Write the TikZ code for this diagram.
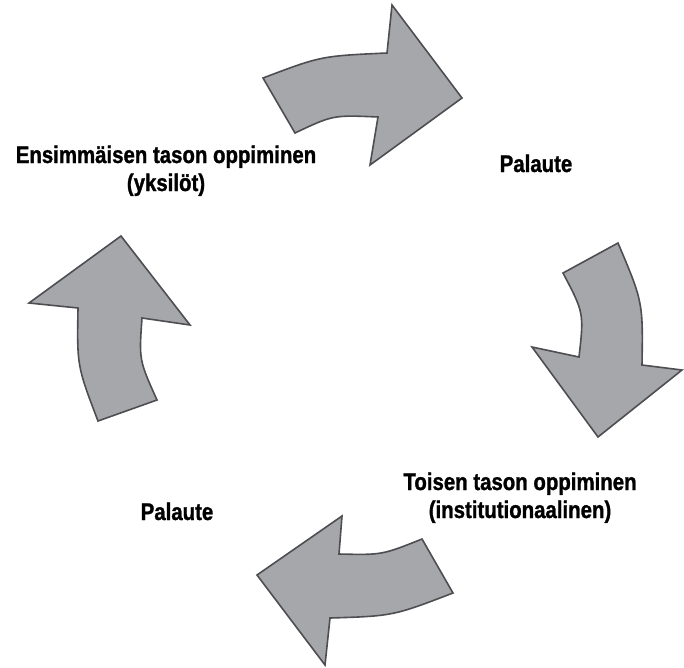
\documentclass[tikz,border=0pt]{standalone}
\usepackage{fontspec}
\newfontfamily\lblfont{Liberation Sans}[FakeStretch=0.85,FakeBold=1.2]
\definecolor{arrowfill}{RGB}{166,167,171}
\definecolor{arrowline}{RGB}{78,78,82}
\begin{document}
\begin{tikzpicture}[x=1pt,y=-1pt,
  cyclearrow/.style={fill=arrowfill,draw=arrowline,line width=1.6pt,line join=miter},
  lbl/.style={font=\lblfont\bfseries\fontsize{24}{28}\selectfont,inner sep=0pt,anchor=base,text=black}]
\useasboundingbox (0,0) rectangle (684,667);
% top arrow (points right)
\path[cyclearrow] (263,78) .. controls (321,56) .. (387,53) -- (392,5) -- (462,98) -- (370,165)
  -- (378,117) .. controls (333,115) .. (295,133) -- cycle;
% right arrow (points down)
\path[cyclearrow] (563,273) -- (618,243) .. controls (643,302) .. (642,365) -- (682,370)
  -- (598,437) -- (532,347) -- (579,357) .. controls (584,313) .. cycle;
% bottom arrow (points left)
\path[cyclearrow] (453,593) -- (422,539) .. controls (382,555) .. (339,554) -- (342,516)
  -- (257,575) -- (325,665) -- (330,618) .. controls (393,616) .. cycle;
% left arrow (points up)
\path[cyclearrow] (157,400) -- (98,421) .. controls (77,366) .. (78,308) -- (29,303)
  -- (121,236) -- (190,325) -- (142,318) .. controls (139,360) .. cycle;
% labels
\node[lbl] (l1a) at (166,163) {Ensimmäisen tason oppiminen};
\node[lbl] (l1b) at (166,191) {(yksilöt)};
\node[lbl] (p1) at (536,172) {Palaute};
\node[lbl] (l2a) at (520,490) {Toisen tason oppiminen};
\node[lbl] (l2b) at (520,518) {(institutionaalinen)};
\node[lbl] (p2) at (177,520) {Palaute};
\end{tikzpicture}
\end{document}
